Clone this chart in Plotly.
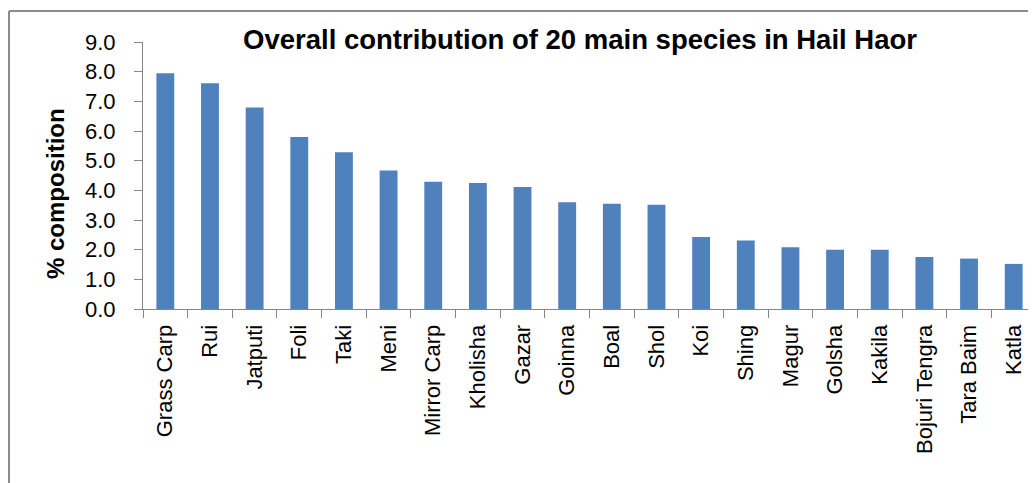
import plotly.graph_objects as go

species = ["Grass Carp", "Rui", "Jatputi", "Foli", "Taki", "Meni", "Mirror Carp",
           "Kholisha", "Gazar", "Goinna", "Boal", "Shol", "Koi", "Shing", "Magur",
           "Golsha", "Kakila", "Bojuri Tengra", "Tara Baim", "Katla"]
composition = [7.95, 7.61, 6.79, 5.80, 5.28, 4.67, 4.29, 4.25, 4.11, 3.60,
               3.55, 3.51, 2.43, 2.31, 2.08, 2.00, 2.00, 1.75, 1.70, 1.52]
y_ticks = [0, 1, 2, 3, 4, 5, 6, 7, 8, 9]
y_tick_labels = [f"{v:.1f}" for v in y_ticks]

# page has an 8px body margin; figure is sized so it fills the window
OFF = 8
W, H = 1036 - OFF, 483 - OFF
ML, MR, MT, MB = 143 - OFF, 0, 42 - OFF, 174
PW, PH = W - ML - MR, H - MT - MB

def px_x(p):  # p in page pixels
    return (p - OFF - ML) / PW

def px_y(p):
    return (H - MB - (p - OFF)) / PH

FONT = "Liberation Sans, Arial, sans-serif"
AXIS_GRAY = "#868686"

fig = go.Figure(go.Bar(
    x=species, y=composition,
    marker=dict(color="#4F81BD", line=dict(width=0)),
))

fig.update_layout(
    width=W, height=H,
    margin=dict(l=ML, r=MR, t=MT, b=MB, pad=0),
    paper_bgcolor="white", plot_bgcolor="white",
    bargap=0.6,
    showlegend=False,
    font=dict(family=FONT, color="black"),
    title=dict(
        text="<b>Overall contribution of 20 main species in Hail Haor</b>",
        x=px_x(580), xref="paper", xanchor="center",
        y=1 - (39 - OFF) / H, yref="container", yanchor="middle",
        font=dict(family=FONT, size=27.5, color="black"),
    ),
    xaxis=dict(
        type="category",
        showline=True, linecolor=AXIS_GRAY, linewidth=1,
        ticks="outside", tickson="boundaries", ticklen=8, tickcolor=AXIS_GRAY,
        tickangle=-90, tickfont=dict(family=FONT, size=22, color="black"),
        ticklabelstandoff=6,
        showgrid=False, zeroline=False,
    ),
    yaxis=dict(
        range=[0, 9],
        tickvals=y_ticks, ticktext=y_tick_labels,
        showline=True, linecolor=AXIS_GRAY, linewidth=1,
        ticks="outside", ticklen=8, tickcolor=AXIS_GRAY,
        tickfont=dict(family=FONT, size=22, color="black"),
        ticklabelstandoff=14,
        showgrid=False, zeroline=False,
    ),
    annotations=[dict(
        text="<b>% composition</b>", textangle=-90,
        x=px_x(55), y=px_y(194), xref="paper", yref="paper",
        xanchor="center", yanchor="middle", showarrow=False,
        font=dict(family=FONT, size=24, color="black"),
    )],
    shapes=[
        dict(type="line", xref="paper", yref="paper",
             x0=px_x(9), x1=px_x(9), y0=px_y(11), y1=px_y(500),
             line=dict(color="#8C8C8C", width=2)),
        dict(type="line", xref="paper", yref="paper",
             x0=px_x(9), x1=px_x(1100), y0=px_y(11), y1=px_y(11),
             line=dict(color="#8C8C8C", width=2)),
    ],
)

fig.write_html("out.html")
